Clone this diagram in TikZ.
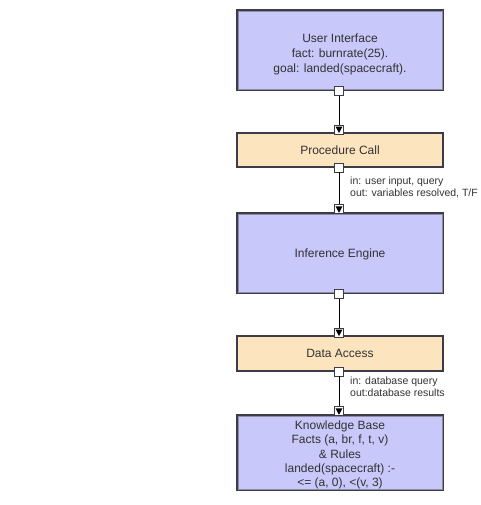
\documentclass[tikz,border=0pt]{standalone}
\usepackage{fontspec}
\setmainfont{Liberation Sans}
\definecolor{bluefill}{RGB}{200,200,250}
\definecolor{orangefill}{RGB}{252,228,190}
\definecolor{edgedark}{RGB}{60,60,72}
\definecolor{edgeinner}{RGB}{140,140,165}
\definecolor{txt}{RGB}{50,50,50}
\tikzset{
  bluebox/.style={draw=edgedark, line width=1.6pt, fill=bluefill, minimum width=206pt, text=txt, align=center, font=\fontsize{12}{15}\selectfont, inner sep=0pt},
  orangebox/.style={draw=edgedark, line width=1.1pt, fill=orangefill, minimum width=206pt, text=txt, align=center, font=\fontsize{12}{14}\selectfont, inner sep=0pt},
  outport/.style={draw=edgedark, line width=0.8pt, fill=white, minimum size=9pt, inner sep=0pt},
  inport/.style={draw=edgedark, line width=0.8pt, fill=white, minimum size=9pt, inner sep=0pt,
    path picture={\fill[black] ([shift={(1pt,-1.5pt)}]path picture bounding box.north west) -- ([shift={(-1pt,-1.5pt)}]path picture bounding box.north east) -- ([shift={(0pt,1pt)}]path picture bounding box.south) -- cycle;}},
  link/.style={draw=black, line width=0.8pt},
  lbl/.style={anchor=north west, align=left, text=txt, font=\fontsize{10.5}{12}\selectfont, inner sep=0pt}
}
\begin{document}
\begin{tikzpicture}[x=1pt,y=-1pt]
\useasboundingbox (0,0) rectangle (480,505);
% boxes
\node[bluebox, minimum height=80pt] (ui) at (340,50) {};
\node[text=txt, align=center, font=\fontsize{12}{15}\selectfont, inner sep=0pt] (uit) at (340,54) {User Interface\\fact: burnrate(25).\\goal: landed(spacecraft).};
\node[orangebox, minimum height=34pt] (pc) at (340,150) {Procedure Call};
\node[bluebox, minimum height=80pt] (ie) at (340,253) {};
\node[text=txt, font=\fontsize{12}{15}\selectfont, inner sep=0pt] (iet) at (340,254) {Inference Engine};
\node[orangebox, minimum height=35pt] (da) at (340,353.5) {Data Access};
\node[bluebox, minimum height=75pt] (kb) at (340,452.5) {};
\node[text=txt, align=center, font=\fontsize{12}{14.2}\selectfont, inner sep=0pt] (kbt) at (340,455) {Knowledge Base\\Facts (a, br, f, t, v)\\\& Rules\\landed(spacecraft) :-\\<= (a, 0), <(v, 3)};
% inner frames of blue boxes
\foreach \b in {ui,ie,kb}{
  \draw[edgeinner, line width=0.7pt] ([shift={(1.9pt,-1.9pt)}]\b.north west) rectangle ([shift={(-1.9pt,1.9pt)}]\b.south east);
}
% ports
\node[outport] (uiout) at ([xshift=-1pt]ui.south) {};
\node[inport, anchor=south] (pcin) at ([shift={(-1pt,-2pt)}]pc.north) {};
\node[outport] (pcout) at ([xshift=-1pt]pc.south) {};
\node[inport, anchor=south] (iein) at ([shift={(-1pt,-2pt)}]ie.north) {};
\node[outport] (ieout) at ([xshift=-1pt]ie.south) {};
\node[inport, anchor=south] (dain) at ([shift={(-1pt,-2pt)}]da.north) {};
\node[outport] (daout) at ([xshift=-1pt]da.south) {};
\node[inport, anchor=south] (kbin) at ([shift={(-1pt,-2pt)}]kb.north) {};
% connectors
\draw[link] (uiout) -- (pcin);
\draw[link] (pcout) -- (iein);
\draw[link] (ieout) -- (dain);
\draw[link] (daout) -- (kbin);
% labels
\node[lbl] (l1) at (350,177) {in: user input, query\\out: variables resolved, T/F};
\node[lbl] (l2) at (350,377) {in: database query\\out:database results};
\end{tikzpicture}
\end{document}
